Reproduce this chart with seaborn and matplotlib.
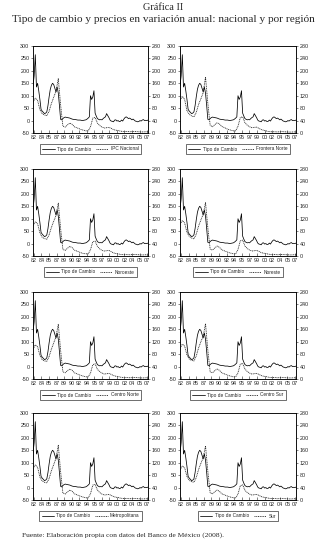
import numpy as np
import pandas as pd
import matplotlib
matplotlib.use("Agg")
import matplotlib.pyplot as plt
import seaborn as sns
from matplotlib.lines import Line2D

sns.set_theme(style="white")
plt.rcParams['font.family'] = ['Liberation Sans', 'DejaVu Sans']

# ---------------- data ----------------
# quarterly time for exchange rate (annual % change), 1982.5 .. 2007.5
tc_time = [1982.5 + 0.25 * i for i in range(101)]
tipo_cambio = [140, 180, 265, 135, 150, 120, 85, 45, 38, 33,
               28, 30, 35, 60, 95, 125, 142, 150, 145, 130,
               115, 135, 110, 60, 5, 3, 8, 12, 14, 13,
               12, 11, 10, 8, 6, 5, 4, 4, 3, 2,
               2, 2, 1, 0, 1, 2, 3, 6, 10, 15,
               100, 85, 95, 120, 30, 18, 8, 5, 3, 4,
               3, 8, 12, 15, 28, 20, 12, 2, -2, -3,
               -5, 2, 3, -2, 0, -4, -3, 2, -2, 6,
               12, 15, 12, 8, 10, 7, 3, 6, 2, -2,
               -3, -5, -4, 0, -2, 2, 4, 0, 1, 0, 2]

# semiannual time for inflation (annual % change), 1982.5 .. 2007.5
ipc_time = [1982.5 + 0.5 * j for j in range(51)]
ipc_nacional = [100, 112, 105, 75, 62, 58, 56, 70, 95, 115,
                135, 175, 90, 22, 19, 26, 32, 28, 20, 17,
                14, 11, 9, 7, 7, 20, 48, 50, 32, 24,
                19, 16, 17, 18, 15, 11, 9, 8, 6, 5,
                5, 5, 4, 4.5, 5, 4.5, 4, 3.5, 3.5, 4, 4]
frontera_norte = [105, 118, 108, 72, 60, 55, 52, 66, 92, 110,
                  130, 180, 95, 25, 20, 27, 33, 29, 21, 18,
                  14, 11, 9, 7, 7, 22, 50, 52, 33, 25,
                  20, 17, 18, 19, 15, 11, 9, 7, 5, 4,
                  4, 4, 3.5, 4, 4.5, 4, 3.5, 3, 3, 3.5, 3.5]
noroeste = [98, 110, 104, 74, 60, 56, 54, 68, 92, 112,
            130, 170, 88, 21, 18, 25, 31, 27, 19, 16,
            13, 10, 8, 7, 7, 20, 46, 48, 31, 23,
            18, 16, 17, 18, 14, 10, 8, 7, 5, 4.5,
            4.5, 4.5, 4, 4.5, 5, 4.5, 4, 3.5, 3.5, 4, 3.5]
noreste = [102, 114, 106, 76, 63, 58, 55, 70, 96, 116,
           134, 172, 90, 22, 19, 26, 32, 28, 20, 17,
           14, 11, 9, 7, 7, 21, 49, 51, 32, 24,
           19, 16, 17, 18, 15, 11, 9, 8, 6, 5,
           5, 5, 4, 4.5, 5, 4.5, 4, 3.5, 3.5, 4, 4]
centro_norte = [96, 110, 104, 76, 62, 58, 57, 72, 96, 116,
                136, 176, 92, 23, 20, 27, 32, 28, 20, 17,
                14, 11, 9, 7, 7, 19, 46, 49, 31, 24,
                19, 16, 17, 18, 15, 11, 9, 8, 6, 5,
                5, 5, 4, 4.5, 5, 4.5, 4, 3.5, 3.5, 4, 4]
centro_sur = [99, 112, 106, 77, 64, 60, 58, 74, 100, 120,
              138, 178, 92, 23, 20, 27, 32, 28, 20, 17,
              14, 11, 9, 7, 7, 20, 48, 50, 32, 24,
              19, 16, 17, 18, 15, 11, 9, 8, 6, 5,
              5, 5, 4, 4.5, 5, 4.5, 4, 3.5, 3.5, 4, 4]
metropolitana = [101, 113, 105, 74, 61, 57, 55, 69, 94, 114,
                 134, 176, 91, 22, 19, 26, 32, 28, 20, 17,
                 14, 11, 9, 7, 7, 20, 48, 50, 32, 24,
                 19, 16, 17, 18, 15, 11, 9, 8, 6, 5,
                 5, 5, 4, 4.5, 5, 4.5, 4, 3.5, 3.5, 4, 4]
sur = [97, 109, 104, 76, 63, 59, 57, 72, 98, 118,
       136, 174, 92, 23, 20, 27, 32, 28, 20, 17,
       14, 11, 9, 7, 7, 19, 46, 49, 31, 24,
       19, 16, 17, 18, 15, 11, 9, 8, 6, 5,
       5, 5, 4, 4.5, 5, 4.5, 4, 3.5, 3.5, 4, 4]

region_names = ["IPC Nacional", "Frontera Norte", "Noroeste", "Noreste",
                "Centro Norte", "Centro Sur", "Metropolitana", "Sur"]
region_values = [ipc_nacional, frontera_norte, noroeste, noreste,
                 centro_norte, centro_sur, metropolitana, sur]

xtick_labels = ["82", "84", "85", "87", "89", "90", "92", "94",
                "95", "97", "99", "00", "02", "04", "05", "07"]
left_ticks = [-50, 0, 50, 100, 150, 200, 250, 300]
right_ticks = [0, 40, 80, 120, 160, 200, 240, 280]

title_top = "Gráfica II"
title_main = "Tipo de cambio y precios en variación anual: nacional y por región"
source_text = "Fuente: Elaboración propia con datos del Banco de México (2008)."

# ---------------- figure ----------------
W, H = 326, 544
fig = plt.figure(figsize=(W / 100, H / 100), dpi=100)
fig.patch.set_facecolor("white")

tops = [46, 169, 292, 413]
ax_h = 87
lefts = [33, 180]
widths = [115, 116]

tc_df = pd.DataFrame({"t": tc_time, "v": tipo_cambio})
fs = 3.9
lfs = 3.4

for k, (name, vals) in enumerate(zip(region_names, region_values)):
    r, c = divmod(k, 2)
    x0, w = lefts[c], widths[c]
    y_top = tops[r]
    ax = fig.add_axes([x0 / W, 1 - (y_top + ax_h) / H, w / W, ax_h / H])
    ax2 = ax.twinx()
    ipc_df = pd.DataFrame({"t": ipc_time, "v": vals})
    sns.lineplot(data=tc_df, x="t", y="v", ax=ax, color="black", lw=0.55)
    sns.lineplot(data=ipc_df, x="t", y="v", ax=ax2, color="#222222", lw=0.6,
                 linestyle=(0, (1.2, 0.9)))
    ax.set_xlim(1982.5, 2007.5)
    ax.set_ylim(-50, 300)
    ax2.set_ylim(0, 280)
    ax.set_yticks(left_ticks)
    ax.set_yticklabels([str(v) for v in left_ticks], fontsize=fs)
    ax2.set_yticks(right_ticks)
    ax2.set_yticklabels([str(v) for v in right_ticks], fontsize=fs)
    xt = np.linspace(1982.7, 2007.3, len(xtick_labels))
    ax.set_xticks(xt)
    ax.set_xticklabels(xtick_labels, fontsize=fs)
    ax.set_xlabel("")
    ax.set_ylabel("")
    ax2.set_ylabel("")
    ax.tick_params(axis="x", direction="in", length=2, width=0.4, pad=1.5,
                   bottom=True)
    ax.tick_params(axis="y", direction="out", length=1.5, width=0.4, pad=1,
                   left=True)
    ax2.tick_params(axis="y", direction="out", length=1.5, width=0.4, pad=1,
                    right=True)
    for a in (ax, ax2):
        for s in a.spines.values():
            s.set_color("black")
            s.set_linewidth(0.5)
    ax.grid(False)
    ax2.grid(False)
    handles = [Line2D([], [], color="black", lw=0.55),
               Line2D([], [], color="#222222", lw=0.6, linestyle=(0, (1.2, 0.9)))]
    cx = (x0 + w / 2) / W
    cy = 1 - (y_top + ax_h + 16) / H
    leg = fig.legend(handles, ["Tipo de Cambio", name], loc="center",
                     bbox_to_anchor=(cx, cy), ncol=2, fontsize=lfs,
                     frameon=True, fancybox=False, handlelength=2.6,
                     handletextpad=0.5, columnspacing=1.0,
                     borderpad=0.5, borderaxespad=0)
    leg.get_frame().set_edgecolor("black")
    leg.get_frame().set_linewidth(0.5)

fig.text(163 / W, 1 - 7.5 / H, title_top, ha="center", va="center",
         fontsize=7.4, family=["Liberation Serif", "DejaVu Serif"])
fig.text(163 / W, 1 - 19 / H, title_main, ha="center", va="center",
         fontsize=8.1, family=["Liberation Serif", "DejaVu Serif"])
fig.text(22 / W, 1 - 535 / H, source_text, ha="left", va="center",
         fontsize=5.4, family=["Liberation Serif", "DejaVu Serif"])

fig.savefig("out.png", dpi=100, facecolor="white")
